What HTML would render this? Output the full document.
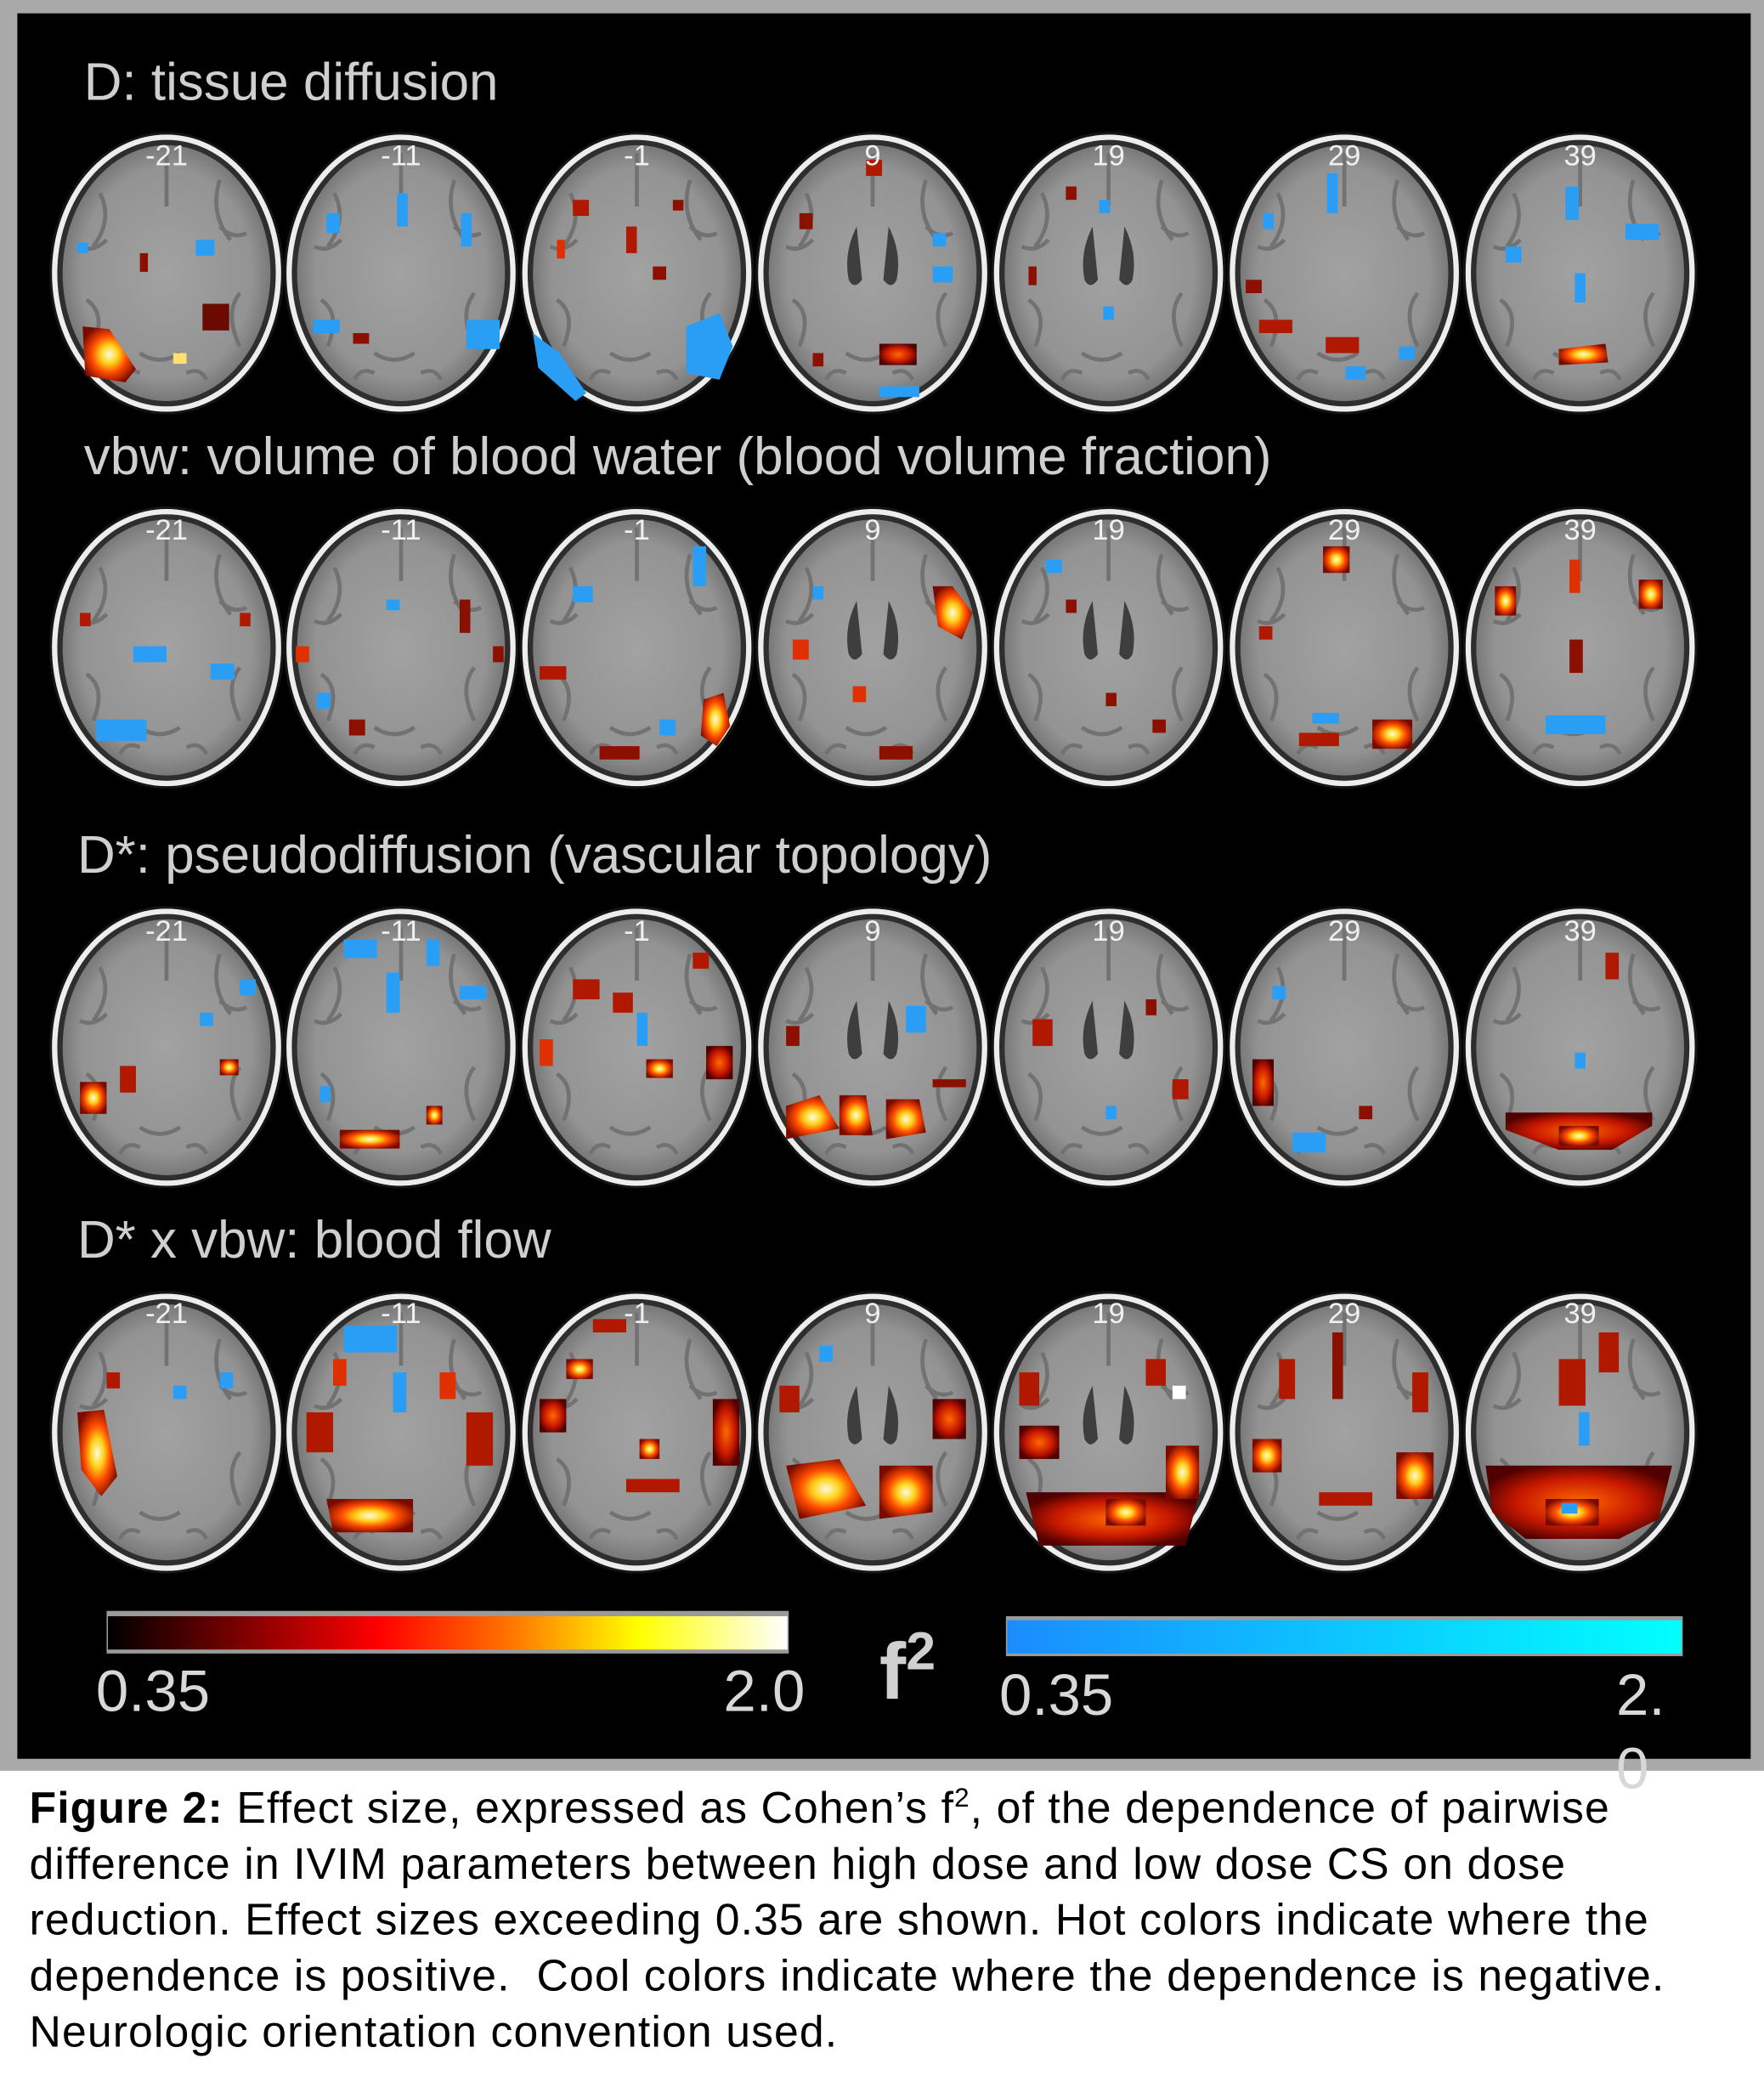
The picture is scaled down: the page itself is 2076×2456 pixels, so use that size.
<!DOCTYPE html>
<html><head><meta charset="utf-8">
<style>
html,body{margin:0;padding:0;background:#fff;}
body{width:2076px;height:2456px;overflow:hidden;position:relative;}
#wrap{position:absolute;left:0;top:0;width:1324px;height:1566px;transform:scale(1.568);transform-origin:0 0;font-family:"Liberation Sans",Arial,sans-serif;}
#gray{position:absolute;left:0;top:0;width:1324px;height:1329px;background:#a9a9a9;}
#black{position:absolute;left:13px;top:10px;width:1301px;height:1310px;background:#000;}
.t{position:absolute;color:#cfcfcf;font-size:39.5px;white-space:nowrap;line-height:1;}
.cl{position:absolute;color:#d8d8d8;font-size:44px;line-height:1;white-space:nowrap;}
#cap{position:absolute;left:22px;top:1336px;width:1300px;font-size:33px;letter-spacing:0.7px;line-height:42px;color:#000;white-space:nowrap;}
svg{position:absolute;left:0;top:0;}
</style></head><body><div id="wrap">
<div id="gray"></div><div id="black"></div>
<svg width="1324" height="1330" viewBox="0 0 1324 1330">
<defs>
<radialGradient id="g" cx="50%" cy="50%" r="55%"><stop offset="0" stop-color="#a2a2a2"/><stop offset="0.75" stop-color="#939393"/><stop offset="1" stop-color="#6a6a6a"/></radialGradient>
<radialGradient id="hot" cx="50%" cy="50%" r="55%"><stop offset="0" stop-color="#fffbe0"/><stop offset="0.3" stop-color="#ffd21a"/><stop offset="0.6" stop-color="#ff4a00"/><stop offset="1" stop-color="#7a0a00"/></radialGradient>
<radialGradient id="red" cx="50%" cy="50%" r="55%"><stop offset="0" stop-color="#ff6a00"/><stop offset="0.6" stop-color="#c81800"/><stop offset="1" stop-color="#500000"/></radialGradient>
<linearGradient id="hbar" x1="0" x2="1"><stop offset="0" stop-color="#000"/><stop offset="0.4" stop-color="#ff0000"/><stop offset="0.6" stop-color="#ff7a00"/><stop offset="0.78" stop-color="#ffff00"/><stop offset="1" stop-color="#fff"/></linearGradient>
<linearGradient id="cbar" x1="0" x2="1"><stop offset="0" stop-color="#1a8cff"/><stop offset="1" stop-color="#00ffff"/></linearGradient>
<g id="br">
<ellipse rx="88" ry="106" fill="#151515"/>
<ellipse rx="84" ry="102" fill="#2e2e2e" stroke="#ededed" stroke-width="4"/>
<ellipse rx="78" ry="96" fill="url(#g)"/>
<path d="M-50 -60 q10 20 -5 40 M40 -70 q-8 25 8 45 M-60 20 q15 10 5 35 M55 15 q-12 15 0 40 M-20 60 q15 10 30 0 M0 -90 v40 M-65 -20 q10 5 20 -5 M60 -30 q-10 5 -20 -5 M-35 80 q5 -10 15 -5 M30 80 q-5 -10 -15 -5" stroke="#727272" stroke-width="3" fill="none"/>
</g>
<g id="vent">
<path d="M-12 -35 q-10 20 -6 40 q4 8 10 0 z M12 -35 q10 20 6 40 q-4 8 -10 0 z" fill="#3e3e3e"/>
</g>
</defs>
<g font-family="Liberation Sans, Arial, sans-serif" font-size="22" fill="#f0f0f0" text-anchor="middle">
<g id="rows">
<use href="#br" transform="translate(125,205)"/><use href="#br" transform="translate(301,205)"/><use href="#br" transform="translate(478,205)"/><use href="#br" transform="translate(655,205)"/><use href="#br" transform="translate(832,205)"/><use href="#br" transform="translate(1009,205)"/><use href="#br" transform="translate(1186,205)"/>
<use href="#br" transform="translate(125,486)"/><use href="#br" transform="translate(301,486)"/><use href="#br" transform="translate(478,486)"/><use href="#br" transform="translate(655,486)"/><use href="#br" transform="translate(832,486)"/><use href="#br" transform="translate(1009,486)"/><use href="#br" transform="translate(1186,486)"/>
<use href="#br" transform="translate(125,786)"/><use href="#br" transform="translate(301,786)"/><use href="#br" transform="translate(478,786)"/><use href="#br" transform="translate(655,786)"/><use href="#br" transform="translate(832,786)"/><use href="#br" transform="translate(1009,786)"/><use href="#br" transform="translate(1186,786)"/>
<use href="#br" transform="translate(125,1075)"/><use href="#br" transform="translate(301,1075)"/><use href="#br" transform="translate(478,1075)"/><use href="#br" transform="translate(655,1075)"/><use href="#br" transform="translate(832,1075)"/><use href="#br" transform="translate(1009,1075)"/><use href="#br" transform="translate(1186,1075)"/>
<use href="#vent" transform="translate(655,205)"/><use href="#vent" transform="translate(832,205)"/><use href="#vent" transform="translate(655,486)"/><use href="#vent" transform="translate(832,486)"/><use href="#vent" transform="translate(655,786)"/><use href="#vent" transform="translate(832,786)"/><use href="#vent" transform="translate(655,1075)"/><use href="#vent" transform="translate(832,1075)"/>
</g>
<g>
<path d="M62 245 l20 2 l20 30 l-8 10 l-30 -5 z" fill="url(#hot)"/>
<rect x="152" y="228" width="20" height="20" fill="#6a0a00"/>
<rect x="58" y="182" width="8" height="8" fill="#2a9df4"/>
<rect x="147" y="180" width="14" height="12" fill="#2a9df4"/>
<rect x="130" y="265" width="10" height="8" fill="#ffe070"/>
<rect x="105" y="190" width="6" height="14" fill="#8b1000"/>
<rect x="350" y="240" width="25" height="22" fill="#2a9df4"/>
<rect x="346" y="160" width="8" height="25" fill="#2a9df4"/>
<rect x="245" y="160" width="10" height="15" fill="#2a9df4"/>
<rect x="235" y="240" width="20" height="10" fill="#2a9df4"/>
<rect x="298" y="145" width="8" height="25" fill="#2a9df4"/>
<rect x="265" y="250" width="12" height="8" fill="#8b1000"/>
<path d="M515 245 l25 -10 l10 25 l-10 25 l-25 -5 z" fill="#2a9df4"/>
<path d="M400 250 l20 15 l20 30 l-8 6 l-28 -25 z" fill="#2a9df4"/>
<rect x="430" y="150" width="12" height="12" fill="#b01800"/>
<rect x="470" y="170" width="8" height="20" fill="#b01800"/>
<rect x="490" y="200" width="10" height="10" fill="#8b1000"/>
<rect x="418" y="180" width="6" height="14" fill="#e03000"/>
<rect x="505" y="150" width="8" height="8" fill="#8b1000"/>
<rect x="660" y="258" width="28" height="16" fill="url(#red)"/>
<rect x="600" y="160" width="10" height="12" fill="#8b1000"/>
<rect x="650" y="120" width="12" height="12" fill="#b01800"/>
<rect x="700" y="200" width="15" height="12" fill="#2a9df4"/>
<rect x="700" y="175" width="10" height="10" fill="#2a9df4"/>
<rect x="610" y="265" width="8" height="10" fill="#8b1000"/>
<rect x="660" y="290" width="30" height="8" fill="#2a9df4"/>
<rect x="800" y="140" width="8" height="10" fill="#8b1000"/>
<rect x="825" y="150" width="8" height="10" fill="#2a9df4"/>
<rect x="828" y="230" width="8" height="10" fill="#2a9df4"/>
<rect x="772" y="200" width="6" height="14" fill="#8b1000"/>
<rect x="945" y="240" width="25" height="10" fill="#b01800"/>
<rect x="995" y="253" width="25" height="12" fill="#b01800"/>
<rect x="996" y="130" width="8" height="30" fill="#2a9df4"/>
<rect x="948" y="160" width="8" height="12" fill="#2a9df4"/>
<rect x="1050" y="260" width="12" height="10" fill="#2a9df4"/>
<rect x="1010" y="275" width="15" height="10" fill="#2a9df4"/>
<rect x="935" y="210" width="12" height="10" fill="#8b1000"/>
<path d="M1170 262 l35 -4 l2 14 l-37 2 z" fill="url(#hot)"/>
<rect x="1175" y="140" width="10" height="25" fill="#2a9df4"/>
<rect x="1220" y="168" width="25" height="12" fill="#2a9df4"/>
<rect x="1130" y="185" width="12" height="12" fill="#2a9df4"/>
<rect x="1182" y="205" width="8" height="22" fill="#2a9df4"/>
</g>
<g>
<rect x="72" y="540" width="38" height="16" fill="#2a9df4"/>
<rect x="100" y="485" width="25" height="12" fill="#2a9df4"/>
<rect x="158" y="498" width="18" height="12" fill="#2a9df4"/>
<rect x="60" y="460" width="8" height="10" fill="#b01800"/>
<rect x="180" y="460" width="8" height="10" fill="#b01800"/>
<rect x="222" y="485" width="10" height="12" fill="#e03000"/>
<rect x="345" y="450" width="8" height="25" fill="#8b1000"/>
<rect x="370" y="485" width="8" height="12" fill="#8b1000"/>
<rect x="262" y="540" width="12" height="12" fill="#8b1000"/>
<rect x="238" y="520" width="10" height="12" fill="#2a9df4"/>
<rect x="290" y="450" width="10" height="8" fill="#2a9df4"/>
<path d="M528 525 l15 -5 l5 25 l-10 15 l-12 -8 z" fill="url(#hot)"/>
<rect x="520" y="410" width="10" height="30" fill="#2a9df4"/>
<rect x="430" y="440" width="15" height="12" fill="#2a9df4"/>
<rect x="405" y="500" width="20" height="10" fill="#b01800"/>
<rect x="450" y="560" width="30" height="10" fill="#8b1000"/>
<rect x="495" y="540" width="12" height="12" fill="#2a9df4"/>
<path d="M700 440 l15 0 l15 20 l-8 20 l-18 -10 z" fill="url(#hot)"/>
<rect x="595" y="480" width="12" height="15" fill="#e03000"/>
<rect x="640" y="515" width="10" height="12" fill="#e03000"/>
<rect x="610" y="440" width="8" height="10" fill="#2a9df4"/>
<rect x="660" y="560" width="25" height="10" fill="#8b1000"/>
<rect x="785" y="420" width="12" height="10" fill="#2a9df4"/>
<rect x="800" y="450" width="8" height="10" fill="#8b1000"/>
<rect x="830" y="520" width="8" height="10" fill="#8b1000"/>
<rect x="865" y="540" width="10" height="10" fill="#8b1000"/>
<rect x="1030" y="540" width="30" height="22" fill="url(#hot)"/>
<rect x="993" y="410" width="20" height="20" fill="url(#hot)"/>
<rect x="975" y="550" width="30" height="10" fill="#b01800"/>
<rect x="985" y="535" width="20" height="8" fill="#2a9df4"/>
<rect x="945" y="470" width="10" height="10" fill="#b01800"/>
<rect x="1160" y="537" width="45" height="14" fill="#2a9df4"/>
<rect x="1122" y="440" width="16" height="22" fill="url(#hot)"/>
<rect x="1230" y="435" width="18" height="22" fill="url(#hot)"/>
<rect x="1178" y="420" width="8" height="25" fill="#e03000"/>
<rect x="1178" y="480" width="10" height="25" fill="#8b1000"/>
</g>
<g>
<rect x="60" y="812" width="20" height="24" fill="url(#hot)"/>
<rect x="165" y="795" width="14" height="12" fill="url(#hot)"/>
<rect x="180" y="735" width="12" height="12" fill="#2a9df4"/>
<rect x="150" y="760" width="10" height="10" fill="#2a9df4"/>
<rect x="90" y="800" width="12" height="20" fill="#b01800"/>
<rect x="258" y="705" width="25" height="14" fill="#2a9df4"/>
<rect x="320" y="705" width="10" height="20" fill="#2a9df4"/>
<rect x="290" y="730" width="10" height="30" fill="#2a9df4"/>
<rect x="345" y="740" width="20" height="10" fill="#2a9df4"/>
<path d="M255 848 l45 0 l0 14 l-45 0 z" fill="url(#hot)"/>
<rect x="320" y="830" width="12" height="14" fill="url(#hot)"/>
<rect x="240" y="815" width="8" height="12" fill="#2a9df4"/>
<rect x="530" y="785" width="20" height="25" fill="url(#red)"/>
<rect x="485" y="795" width="20" height="14" fill="url(#hot)"/>
<rect x="430" y="735" width="20" height="15" fill="#b01800"/>
<rect x="460" y="745" width="15" height="15" fill="#b01800"/>
<rect x="478" y="760" width="8" height="25" fill="#2a9df4"/>
<rect x="405" y="780" width="10" height="20" fill="#e03000"/>
<rect x="520" y="715" width="12" height="12" fill="#b01800"/>
<path d="M590 830 l25 -8 l15 25 l-40 8 z" fill="url(#hot)"/>
<path d="M630 822 l20 0 l5 30 l-25 0 z" fill="url(#hot)"/>
<path d="M665 825 l25 0 l5 25 l-30 5 z" fill="url(#hot)"/>
<rect x="680" y="755" width="15" height="20" fill="#2a9df4"/>
<rect x="590" y="770" width="10" height="15" fill="#8b1000"/>
<rect x="700" y="810" width="25" height="6" fill="#8b1000"/>
<rect x="775" y="765" width="15" height="20" fill="#b01800"/>
<rect x="880" y="810" width="12" height="15" fill="#b01800"/>
<rect x="860" y="750" width="8" height="12" fill="#8b1000"/>
<rect x="830" y="830" width="8" height="10" fill="#2a9df4"/>
<rect x="940" y="795" width="16" height="35" fill="url(#red)"/>
<rect x="970" y="850" width="25" height="15" fill="#2a9df4"/>
<rect x="955" y="740" width="10" height="10" fill="#2a9df4"/>
<rect x="1020" y="830" width="10" height="10" fill="#8b1000"/>
<path d="M1130 835 l110 0 l0 10 l-30 18 l-40 0 l-40 -15 z" fill="url(#red)"/>
<rect x="1170" y="845" width="30" height="15" fill="url(#hot)"/>
<rect x="1182" y="790" width="8" height="12" fill="#2a9df4"/>
<rect x="1205" y="715" width="10" height="20" fill="#b01800"/>
</g>
<g>
<path d="M58 1060 l20 -2 l10 50 l-12 15 l-15 -20 z" fill="url(#hot)"/>
<rect x="130" y="1040" width="10" height="10" fill="#2a9df4"/>
<rect x="165" y="1030" width="10" height="12" fill="#2a9df4"/>
<rect x="80" y="1030" width="10" height="12" fill="#b01800"/>
<rect x="258" y="995" width="40" height="20" fill="#2a9df4"/>
<path d="M245 1125 l65 0 l0 25 l-60 0 z" fill="url(#hot)"/>
<rect x="230" y="1060" width="20" height="30" fill="#b01800"/>
<rect x="350" y="1060" width="20" height="40" fill="#b01800"/>
<rect x="250" y="1020" width="10" height="20" fill="#e03000"/>
<rect x="330" y="1030" width="12" height="20" fill="#e03000"/>
<rect x="295" y="1030" width="10" height="30" fill="#2a9df4"/>
<rect x="535" y="1050" width="20" height="50" fill="url(#red)"/>
<rect x="405" y="1050" width="20" height="25" fill="url(#red)"/>
<rect x="425" y="1020" width="20" height="15" fill="url(#hot)"/>
<rect x="480" y="1080" width="15" height="15" fill="url(#hot)"/>
<rect x="445" y="990" width="25" height="10" fill="#b01800"/>
<rect x="470" y="1110" width="40" height="10" fill="#b01800"/>
<path d="M590 1100 l40 -5 l20 35 l-50 10 z" fill="url(#hot)"/>
<path d="M660 1100 l40 0 l0 35 l-40 5 z" fill="url(#hot)"/>
<rect x="700" y="1050" width="25" height="30" fill="url(#red)"/>
<rect x="585" y="1040" width="15" height="20" fill="#b01800"/>
<rect x="615" y="1010" width="10" height="12" fill="#2a9df4"/>
<path d="M770 1120 l130 0 l-10 40 l-110 0 z" fill="url(#red)"/>
<rect x="830" y="1125" width="30" height="20" fill="url(#hot)"/>
<rect x="875" y="1085" width="25" height="40" fill="url(#hot)"/>
<rect x="765" y="1070" width="30" height="25" fill="url(#red)"/>
<rect x="765" y="1030" width="15" height="25" fill="#b01800"/>
<rect x="860" y="1020" width="15" height="20" fill="#b01800"/>
<rect x="880" y="1040" width="10" height="10" fill="#fff"/>
<rect x="940" y="1080" width="22" height="25" fill="url(#hot)"/>
<rect x="1048" y="1090" width="28" height="35" fill="url(#hot)"/>
<rect x="960" y="1020" width="12" height="30" fill="#b01800"/>
<rect x="1060" y="1030" width="12" height="30" fill="#b01800"/>
<rect x="1000" y="1000" width="8" height="50" fill="#8b1000"/>
<rect x="990" y="1120" width="40" height="10" fill="#b01800"/>
<path d="M1115 1100 l140 0 l-10 40 l-30 15 l-70 0 l-25 -20 z" fill="url(#red)"/>
<rect x="1160" y="1125" width="40" height="20" fill="url(#hot)"/>
<rect x="1172" y="1128" width="12" height="8" fill="#2a9df4"/>
<rect x="1170" y="1020" width="20" height="35" fill="#b01800"/>
<rect x="1200" y="1000" width="15" height="30" fill="#b01800"/>
<rect x="1185" y="1060" width="8" height="25" fill="#2a9df4"/>
</g>
<g>
<text x="125" y="124">-21</text><text x="301" y="124">-11</text><text x="478" y="124">-1</text><text x="655" y="124">9</text><text x="832" y="124">19</text><text x="1009" y="124">29</text><text x="1186" y="124">39</text>
<text x="125" y="405">-21</text><text x="301" y="405">-11</text><text x="478" y="405">-1</text><text x="655" y="405">9</text><text x="832" y="405">19</text><text x="1009" y="405">29</text><text x="1186" y="405">39</text>
<text x="125" y="706">-21</text><text x="301" y="706">-11</text><text x="478" y="706">-1</text><text x="655" y="706">9</text><text x="832" y="706">19</text><text x="1009" y="706">29</text><text x="1186" y="706">39</text>
<text x="125" y="993">-21</text><text x="301" y="993">-11</text><text x="478" y="993">-1</text><text x="655" y="993">9</text><text x="832" y="993">19</text><text x="1009" y="993">29</text><text x="1186" y="993">39</text>
</g>
</g>
<rect x="80" y="1209" width="512" height="32" fill="#9a9a9a"/>
<rect x="81" y="1213" width="510" height="25" fill="url(#hbar)"/>
<rect x="755" y="1213" width="508" height="30" fill="#9a9a9a"/>
<rect x="756" y="1216" width="506" height="25" fill="url(#cbar)"/>
</svg>
<div class="t" style="left:63px;top:43px;">D: tissue diffusion</div>
<div class="t" style="left:63px;top:324px;">vbw: volume of blood water (blood volume fraction)</div>
<div class="t" style="left:58px;top:623px;">D*: pseudodiffusion (vascular topology)</div>
<div class="t" style="left:58px;top:912px;">D* x vbw: blood flow</div>
<div class="cl" style="left:72px;top:1248px;">0.35</div>
<div class="cl" style="left:543px;top:1248px;">2.0</div>
<div class="cl" style="left:660px;top:1220px;font-size:60px;font-weight:bold;color:#d0d0d0;">f<sup style="font-size:40px;vertical-align:22px;">2</sup></div>
<div class="cl" style="left:750px;top:1251px;">0.35</div>
<div class="cl" style="left:1213px;top:1251px;">2.</div>
<div class="cl" style="left:1213px;top:1306px;">0</div>
<div id="cap"><b>Figure 2:</b> Effect size, expressed as Cohen’s f<sup style="font-size:20px;line-height:0;">2</sup>, of the dependence of pairwise<br>difference in IVIM parameters between high dose and low dose CS on dose<br>reduction. Effect sizes exceeding 0.35 are shown. Hot colors indicate where the<br>dependence is positive.&nbsp; Cool colors indicate where the dependence is negative.<br>Neurologic orientation convention used.</div>
</div></body></html>
